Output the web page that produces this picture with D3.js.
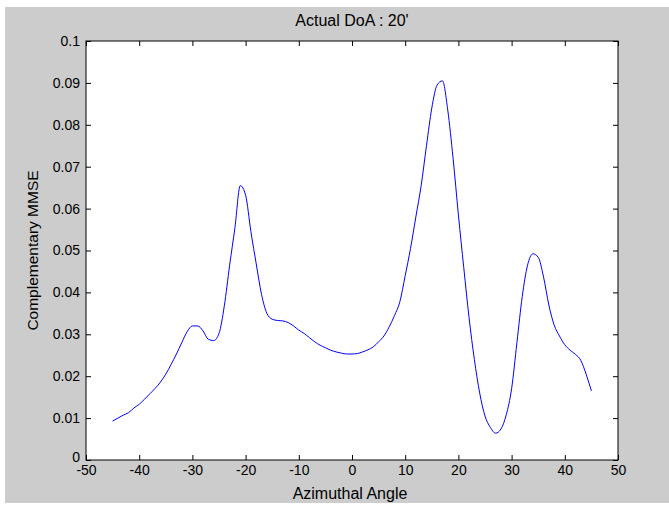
<!DOCTYPE html>
<html>
<head>
<meta charset="utf-8">
<script src="https://cdn.jsdelivr.net/npm/d3@7"></script>
<style>
  body { margin: 0; background: #fff; }
  text { font-family: Arial, "Liberation Sans", sans-serif; fill: #000; }
</style>
</head>
<body>
<div id="chart"></div>
<script>
'use strict';

// angulos y valores
const angles = [
  -45, -44, -43, -42, -41, -40, -39, -38, -37, -36, -35, -34, -33, -32, -31, -30,
  -29, -28, -27, -26, -25, -24, -23, -22, -21, -20, -19, -18, -17, -16, -15, -14,
  -13, -12, -11, -10, -9, -8, -7, -6, -5, -4, -3, -2, -1, 0, 1, 2, 3, 4, 5, 6, 7,
  8, 9, 10, 11, 12, 13, 14, 15, 16, 17, 18, 19, 20, 21, 22, 23, 24, 25, 26, 27,
  28, 29, 30, 31, 32, 33, 34, 35, 36, 37, 38, 39, 40, 41, 42, 43, 44, 45
];
const mmse = [
  0.0093, 0.0100, 0.0107, 0.0113, 0.0124, 0.0133, 0.0145, 0.0158, 0.0171, 0.0186,
  0.0205, 0.0228, 0.0253, 0.0280, 0.0306, 0.0320, 0.0320, 0.0308, 0.0288, 0.0285,
  0.0302, 0.0368, 0.0465, 0.0555, 0.0655, 0.0632, 0.0545, 0.0468, 0.0395, 0.0350,
  0.0336, 0.0333, 0.0332, 0.0328, 0.0320, 0.0310, 0.0302, 0.0292, 0.0282, 0.0274,
  0.0268, 0.0262, 0.0258, 0.0255, 0.0253, 0.0253, 0.0254, 0.0258, 0.0263, 0.0270,
  0.0282, 0.0296, 0.0318, 0.0345, 0.0378, 0.0440, 0.0505, 0.0580, 0.0655, 0.0750,
  0.0840, 0.0895, 0.0905, 0.0835, 0.0720, 0.0585, 0.0460, 0.0340, 0.0240, 0.0160,
  0.0105, 0.0078, 0.0064, 0.0074, 0.0108, 0.0170, 0.0280, 0.0390, 0.0465, 0.0492,
  0.0484, 0.0437, 0.0370, 0.0322, 0.0296, 0.0275, 0.0262, 0.0252, 0.0238, 0.0205,
  0.0165
];
const xTicks = [-50, -40, -30, -20, -10, 0, 10, 20, 30, 40, 50];
const yTicks = [0, 0.01, 0.02, 0.03, 0.04, 0.05, 0.06, 0.07, 0.08, 0.09, 0.1];

const data = angles.map((a, i) => [a, mmse[i]]);

function drawChart(elementID) {
  const width = 669;
  const height = 508;
  const left = 86, right = 618, top = 41, bottom = 460;
  const tickLen = 5;

  const svg = d3.select('#' + elementID)
    .append('svg')
    .attr('width', width)
    .attr('height', height);

  // fondo gris de la figura
  svg.append('rect')
    .attr('x', 5).attr('y', 7)
    .attr('width', width - 5).attr('height', 496)
    .attr('fill', '#cccccc');

  svg.append('rect')
    .attr('x', left).attr('y', top)
    .attr('width', right - left).attr('height', bottom - top)
    .attr('fill', '#ffffff');

  const scaleX = d3.scaleLinear().domain([-50, 50]).range([left, right]);
  const scaleY = d3.scaleLinear().domain([0, 0.1]).range([bottom, top]);

  // ejes (ticks hacia dentro, tambien arriba y a la derecha)
  const fmtY = d => d === 0 ? '0' : String(+d.toFixed(2));

  const xAxis = d3.axisBottom(scaleX).tickValues(xTicks).tickSizeInner(-tickLen).tickSizeOuter(0).tickPadding(5).tickFormat(d => d);
  svg.append('g').attr('class', 'axisX')
    .attr('transform', `translate(0, ${bottom})`)
    .call(xAxis);

  const xAxisTop = d3.axisTop(scaleX).tickValues(xTicks).tickSizeInner(-tickLen).tickSizeOuter(0).tickFormat('');
  svg.append('g').attr('transform', `translate(0, ${top})`).call(xAxisTop);

  const yAxis = d3.axisLeft(scaleY).tickValues(yTicks).tickSizeInner(-tickLen).tickSizeOuter(0).tickPadding(6).tickFormat(fmtY);
  svg.append('g').attr('class', 'axisY')
    .attr('transform', `translate(${left}, 0)`)
    .call(yAxis);

  const yAxisRight = d3.axisRight(scaleY).tickValues(yTicks).tickSizeInner(-tickLen).tickSizeOuter(0).tickFormat('');
  svg.append('g').attr('transform', `translate(${right}, 0)`).call(yAxisRight);

  svg.selectAll('.domain').remove();
  svg.selectAll('.tick line').attr('stroke', '#000');
  svg.selectAll('.tick text').style('font-size', '14px').attr('fill', '#000');
  // el 0 del eje Y un poco mas arriba, como en la figura
  svg.selectAll('.axisY .tick text').filter(d => d === 0).attr('dy', '0.1em');

  // marco
  svg.append('rect')
    .attr('x', left).attr('y', top)
    .attr('width', right - left).attr('height', bottom - top)
    .attr('fill', 'none')
    .attr('stroke', '#000')
    .attr('stroke-width', 1);

  // linea
  const line = d3.line()
    .curve(d3.curveMonotoneX)
    .x(d => scaleX(d[0]))
    .y(d => scaleY(d[1]));

  svg.append('path')
    .datum(data)
    .attr('d', line)
    .attr('fill', 'none')
    .attr('stroke', '#0000ff')
    .attr('stroke-width', 1);

  // textos
  svg.append('text')
    .attr('x', 352).attr('y', 26)
    .attr('text-anchor', 'middle')
    .style('font-size', '16px')
    .text("Actual DoA : 20'");

  svg.append('text')
    .attr('x', 350).attr('y', 499)
    .attr('text-anchor', 'middle')
    .style('font-size', '16px')
    .text('Azimuthal Angle');

  svg.append('text')
    .attr('transform', `translate(38, ${(top + bottom) / 2}) rotate(-90)`)
    .attr('text-anchor', 'middle')
    .style('font-size', '15.5px')
    .text('Complementary MMSE');
}

drawChart('chart');
</script>
</body>
</html>
